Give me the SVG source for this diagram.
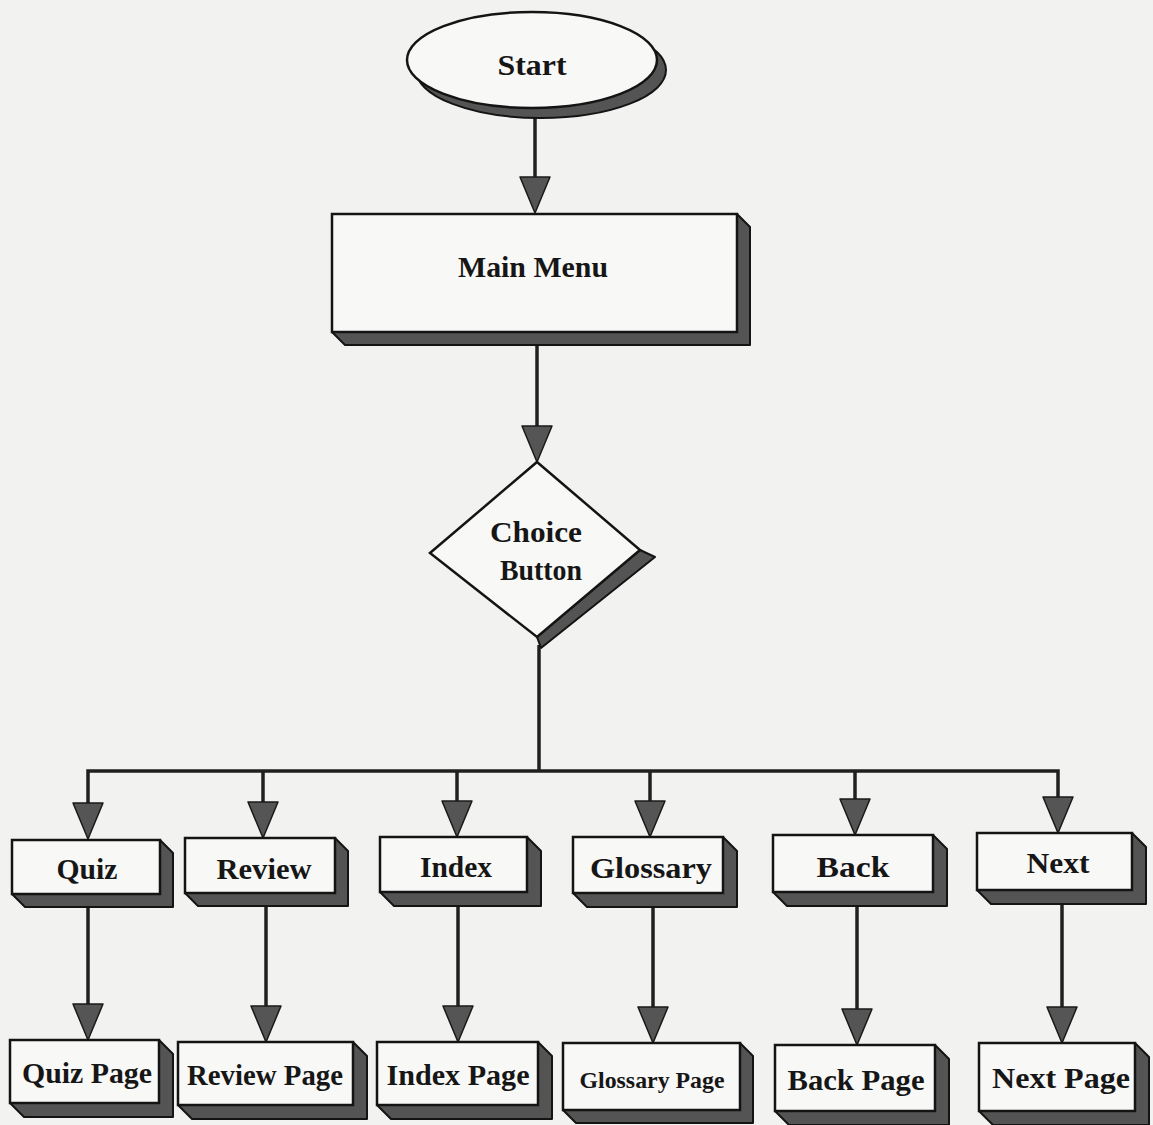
<svg xmlns="http://www.w3.org/2000/svg" xmlns:xlink="http://www.w3.org/1999/xlink" width="1153" height="1125" viewBox="0 0 1153 1125">
  <style>
    .bg { fill: #f2f2f0; }
    .box { fill: #f8f8f6; stroke: #141414; stroke-width: 2.5; }
    .shd { fill: #545454; stroke: #141414; stroke-width: 2; stroke-linejoin: round; }
    .wire { fill: none; stroke: #202020; stroke-width: 3.5; }
    .head { fill: #555555; stroke: #1a1a1a; stroke-width: 1.5; stroke-linejoin: round; }
    .lbl { font-family: "Liberation Serif", "Times New Roman", serif; font-weight: bold; font-size: 30px; fill: #161616; text-anchor: middle; }
    .sm { font-size: 23px; }
  </style>
  <defs>
    <!-- downward arrowhead, tip at the origin -->
    <path id="ah" class="head" d="M-15,-36 L15,-36 L0,0 Z"/>
  </defs>

  <rect class="bg" x="0" y="0" width="1153" height="1125"/>

  <!-- connectors -->
  <g id="connectors">
    <line class="wire" x1="535" y1="116" x2="535" y2="178"/>
    <use xlink:href="#ah" x="535" y="213"/>
    <line class="wire" x1="537" y1="345" x2="537" y2="427"/>
    <use xlink:href="#ah" x="537" y="462"/>
    <line class="wire" x1="539" y1="645" x2="539" y2="771"/>
    <polyline class="wire" points="88,805 88,771 1058,771 1058,800"/>
    <line class="wire" x1="263" y1="771" x2="263" y2="803"/>
    <line class="wire" x1="457" y1="771" x2="457" y2="802"/>
    <line class="wire" x1="650" y1="771" x2="650" y2="802"/>
    <line class="wire" x1="855" y1="771" x2="855" y2="800"/>
    <use xlink:href="#ah" x="88" y="839"/>
    <use xlink:href="#ah" x="263" y="838"/>
    <use xlink:href="#ah" x="457" y="837"/>
    <use xlink:href="#ah" x="650" y="837"/>
    <use xlink:href="#ah" x="855" y="835"/>
    <use xlink:href="#ah" x="1058" y="833"/>
    <line class="wire" x1="88" y1="907" x2="88" y2="1005"/>
    <line class="wire" x1="266" y1="906" x2="266" y2="1007"/>
    <line class="wire" x1="458" y1="906" x2="458" y2="1007"/>
    <line class="wire" x1="653" y1="907" x2="653" y2="1008"/>
    <line class="wire" x1="857" y1="906" x2="857" y2="1010"/>
    <line class="wire" x1="1062" y1="904" x2="1062" y2="1008"/>
    <use xlink:href="#ah" x="88" y="1040"/>
    <use xlink:href="#ah" x="266" y="1042"/>
    <use xlink:href="#ah" x="458" y="1042"/>
    <use xlink:href="#ah" x="653" y="1043"/>
    <use xlink:href="#ah" x="857" y="1045"/>
    <use xlink:href="#ah" x="1062" y="1043"/>
  </g>

  <!-- start terminal -->
  <g id="start">
    <ellipse class="shd" cx="541" cy="70" rx="125" ry="48"/>
    <ellipse class="box" cx="532" cy="60" rx="125" ry="48"/>
    <text class="lbl" x="532" y="75" textLength="69" lengthAdjust="spacingAndGlyphs">Start</text>
  </g>

  <!-- main menu -->
  <g id="main-menu">
    <polygon class="shd" points="737,214 750,227 750,345 345,345 332,332"/>
    <rect class="box" x="332" y="214" width="405" height="118"/>
    <text class="lbl" x="533" y="277" textLength="150" lengthAdjust="spacingAndGlyphs">Main Menu</text>
  </g>

  <!-- decision -->
  <g id="choice-button">
    <polygon class="shd" points="640,550 655,557 541,648 537,637"/>
    <polygon class="box" points="537,462 640,550 537,637 430,553"/>
    <text class="lbl" x="536" y="542" textLength="92" lengthAdjust="spacingAndGlyphs">Choice</text>
    <text class="lbl" x="541" y="580" textLength="82" lengthAdjust="spacingAndGlyphs">Button</text>
  </g>

  <!-- first row -->
  <g id="quiz">
    <polygon class="shd" points="160,840 173,853 173,907 25,907 12,894"/>
    <rect class="box" x="12" y="840" width="148" height="54"/>
    <text class="lbl" x="87" y="879" textLength="61" lengthAdjust="spacingAndGlyphs">Quiz</text>
  </g>
  <g id="review">
    <polygon class="shd" points="335,838 348,851 348,906 198,906 185,893"/>
    <rect class="box" x="185" y="838" width="150" height="55"/>
    <text class="lbl" x="264" y="879" textLength="95" lengthAdjust="spacingAndGlyphs">Review</text>
  </g>
  <g id="index">
    <polygon class="shd" points="527,837 541,851 541,906 394,906 380,892"/>
    <rect class="box" x="380" y="837" width="147" height="55"/>
    <text class="lbl" x="456" y="877" textLength="72" lengthAdjust="spacingAndGlyphs">Index</text>
  </g>
  <g id="glossary">
    <polygon class="shd" points="723,837 737,851 737,907 587,907 573,893"/>
    <rect class="box" x="573" y="837" width="150" height="56"/>
    <text class="lbl" x="651" y="878" textLength="122" lengthAdjust="spacingAndGlyphs">Glossary</text>
  </g>
  <g id="back">
    <polygon class="shd" points="933,835 947,849 947,906 787,906 773,892"/>
    <rect class="box" x="773" y="835" width="160" height="57"/>
    <text class="lbl" x="853" y="877" textLength="73" lengthAdjust="spacingAndGlyphs">Back</text>
  </g>
  <g id="next">
    <polygon class="shd" points="1132,833 1146,847 1146,904 991,904 977,890"/>
    <rect class="box" x="977" y="833" width="155" height="57"/>
    <text class="lbl" x="1058" y="873" textLength="63" lengthAdjust="spacingAndGlyphs">Next</text>
  </g>

  <!-- second row -->
  <g id="quiz-page">
    <polygon class="shd" points="159,1040 173,1054 173,1117 24,1117 10,1103"/>
    <rect class="box" x="10" y="1040" width="149" height="63"/>
    <text class="lbl" x="87" y="1083" textLength="130" lengthAdjust="spacingAndGlyphs">Quiz Page</text>
  </g>
  <g id="review-page">
    <polygon class="shd" points="353,1042 367,1056 367,1119 192,1119 178,1105"/>
    <rect class="box" x="178" y="1042" width="175" height="63"/>
    <text class="lbl" x="265" y="1085" textLength="156" lengthAdjust="spacingAndGlyphs">Review Page</text>
  </g>
  <g id="index-page">
    <polygon class="shd" points="538,1042 552,1056 552,1119 391,1119 377,1105"/>
    <rect class="box" x="377" y="1042" width="161" height="63"/>
    <text class="lbl" x="458" y="1085" textLength="143" lengthAdjust="spacingAndGlyphs">Index Page</text>
  </g>
  <g id="glossary-page">
    <polygon class="shd" points="740,1043 753,1056 753,1123 576,1123 563,1110"/>
    <rect class="box" x="563" y="1043" width="177" height="67"/>
    <text class="lbl sm" x="652" y="1088" textLength="145" lengthAdjust="spacingAndGlyphs">Glossary Page</text>
  </g>
  <g id="back-page">
    <polygon class="shd" points="935,1045 949,1059 949,1125 789,1125 775,1111"/>
    <rect class="box" x="775" y="1045" width="160" height="66"/>
    <text class="lbl" x="856" y="1090" textLength="137" lengthAdjust="spacingAndGlyphs">Back Page</text>
  </g>
  <g id="next-page">
    <polygon class="shd" points="1135,1043 1149,1057 1149,1125 993,1125 979,1111"/>
    <rect class="box" x="979" y="1043" width="156" height="68"/>
    <text class="lbl" x="1061" y="1088" textLength="138" lengthAdjust="spacingAndGlyphs">Next Page</text>
  </g>
</svg>
